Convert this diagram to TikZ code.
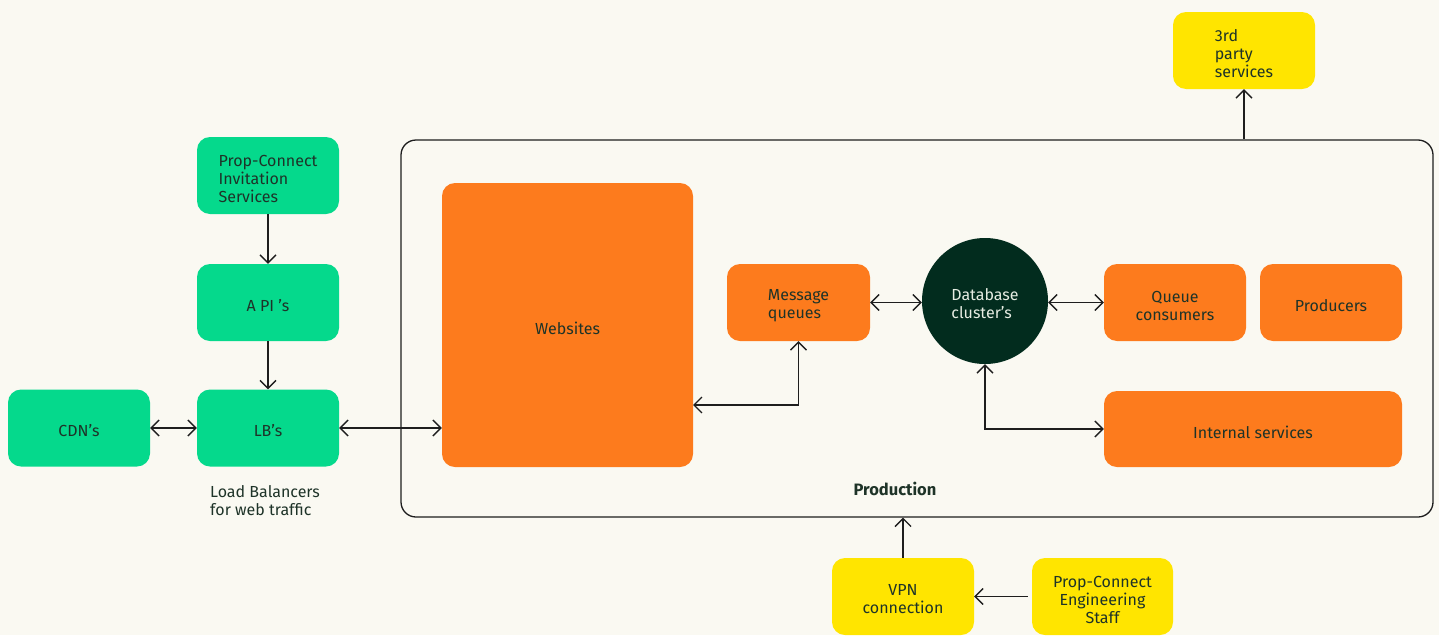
\documentclass[tikz,border=0pt]{standalone}
\usepackage{fontspec}
\setmainfont{Fira Sans}
\usetikzlibrary{arrows.meta}
\definecolor{bg}{HTML}{FAF9F2}
\definecolor{grn}{HTML}{05D98C}
\definecolor{org}{HTML}{FD7B1D}
\definecolor{ylw}{HTML}{FFE500}
\definecolor{dkg}{HTML}{022C1E}
\definecolor{txt}{HTML}{1E3328}
\definecolor{lighttxt}{HTML}{E6ECE2}
\definecolor{ln}{HTML}{1E1E1E}
\newcommand{\bodyfont}{\fontsize{16}{18}\selectfont}
% #1 box style, #2 name, #3 position, #4 text options, #5 text
\newcommand{\boxwithtext}[5]{%
  \node[#1] (#2) at (#3) {};
  \node[boxtext, #4] (#2-t) at ([yshift=-3pt]#2.center) {#5};}
\begin{document}
\begin{tikzpicture}[x=1pt,y=-1pt,
  box/.style={rounded corners=13pt, minimum width=142pt, minimum height=77pt, inner sep=0pt},
  gbox/.style={box, fill=grn},
  obox/.style={box, fill=org},
  ybox/.style={box, fill=ylw},
  boxtext/.style={font=\bodyfont, text=txt, align=center, inner sep=0pt},
  tip/.tip={Straight Barb[length=8pt,width=16pt,line width=1.3pt]},
  conn/.style={draw=ln, line width=1.3pt, tip-tip},
  oneway/.style={draw=ln, line width=1.3pt, -tip},
  lbl/.style={font=\bodyfont, text=txt, inner sep=0pt}
]
\fill[bg] (0,0) rectangle (1439,635);
\useasboundingbox (0,0) rectangle (1439,635);

% production frame
\node[draw=ln, line width=1.3pt, rounded corners=15pt, minimum width=1032pt, minimum height=377pt, inner sep=0pt] (prod) at (917,328.5) {};
\node[lbl, font=\fontsize{16.5}{18}\selectfont\bfseries] (prodlbl) at (895,489) {Production};

% green
\boxwithtext{gbox}{inv}{268,175.5}{align=left}{Prop-Connect\\Invitation\\Services}
\boxwithtext{gbox}{api}{268,302.5}{}{A PI ’s}
\boxwithtext{gbox}{lb}{268,428}{}{LB’s}
\boxwithtext{gbox}{cdn}{79,428}{}{CDN’s}
\node[lbl, align=left, anchor=north west] (lbtxt) at (210,485) {Load Balancers\\for web traffic};

% orange
\boxwithtext{obox, minimum width=251pt, minimum height=284pt}{web}{567.5,325}{}{Websites}
\boxwithtext{obox, minimum width=143pt}{mq}{798.5,302.5}{align=left}{Message\\queues}
\boxwithtext{circle, fill=dkg, minimum size=126pt, inner sep=0pt}{db}{985,301}{align=left, text=lighttxt}{Database\\cluster’s}
\boxwithtext{obox}{qc}{1175,302.5}{}{Queue\\consumers}
\boxwithtext{obox}{prd}{1331,302.5}{}{Producers}
\boxwithtext{obox, minimum width=298pt, minimum height=76pt}{int}{1253,429}{}{Internal services}

% yellow
\boxwithtext{ybox}{third}{1244,50.5}{align=left}{3rd\\party\\services}
\boxwithtext{ybox}{vpn}{903,596.5}{}{VPN\\connection}
\boxwithtext{ybox, minimum width=141pt}{staff}{1102.5,596.5}{}{Prop-Connect\\Engineering\\Staff}

% connectors
\draw[oneway] (inv.south) -- (api.north);
\draw[oneway] (api.south) -- (lb.north);
\draw[conn] (cdn.east) -- (lb.west);
\draw[conn] (lb.east) -- (lb.east -| web.west);
\coordinate (wm) at (693,405);
\draw[conn] (wm) -| (mq.south);
\draw[conn] (mq.east) -- (mq.east -| db.west);
\draw[conn] (db.east |- qc.west) -- (qc.west);
\draw[conn] (db.south) |- (int.west);
\draw[oneway] (third.south |- prod.north) -- (third.south);
\draw[oneway] (vpn.north) -- (vpn.north |- prod.south);
\draw[oneway, shorten <=4pt] (staff.west) -- (vpn.east);
\end{tikzpicture}
\end{document}
